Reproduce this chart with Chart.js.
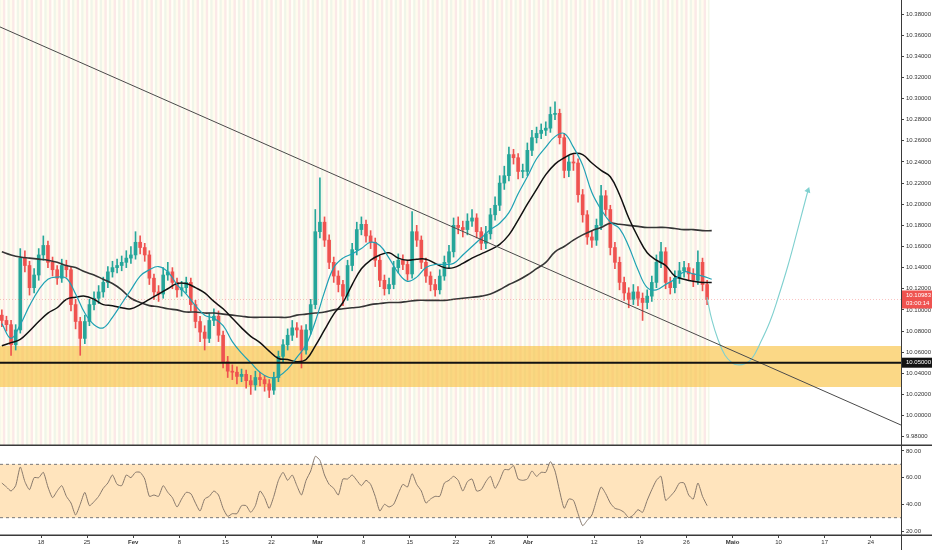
<!DOCTYPE html>
<html>
<head>
<meta charset="utf-8">
<script src="https://cdn.jsdelivr.net/npm/chart.js@4.4.1/dist/chart.umd.min.js"></script>
<style>
  html, body { margin: 0; padding: 0; background: #fff; }
  #wrap { position: relative; width: 932px; height: 550px; overflow: hidden; }
  #price { position: absolute; left: 0; top: 0; }
  #rsi { position: absolute; left: 0; top: 446px; }
</style>
</head>
<body>
<div id="wrap">
  <canvas id="price" width="932" height="446"></canvas>
  <canvas id="rsi" width="932" height="104"></canvas>
</div>
<script>
// x unit = trading days counted from Mon 18 Jan (0)

// candles, two per trading day
const opens = [10.095,10.090,10.086,10.067,10.081,10.149,10.142,10.121,10.133,10.152,
  10.161,10.145,10.138,10.130,10.142,10.138,10.105,10.089,10.073,10.089,
  10.105,10.111,10.117,10.126,10.136,10.140,10.142,10.145,10.149,10.152,
  10.164,10.159,10.152,10.130,10.117,10.115,10.133,10.136,10.126,10.119,
  10.121,10.126,10.105,10.089,10.079,10.073,10.090,10.094,10.076,10.051,
  10.042,10.041,10.037,10.039,10.033,10.029,10.036,10.034,10.030,10.024,
  10.036,10.056,10.067,10.076,10.083,10.081,10.062,10.081,10.105,10.174,
  10.183,10.166,10.145,10.132,10.124,10.113,10.142,10.157,10.176,10.181,
  10.170,10.164,10.147,10.128,10.120,10.124,10.140,10.147,10.143,10.134,
  10.174,10.166,10.145,10.132,10.124,10.119,10.132,10.145,10.155,10.180,
  10.178,10.176,10.184,10.187,10.174,10.163,10.172,10.190,10.199,10.220,
  10.227,10.247,10.244,10.231,10.231,10.251,10.263,10.267,10.270,10.272,
  10.285,10.286,10.263,10.232,10.240,10.239,10.209,10.190,10.169,10.166,
  10.180,10.208,10.195,10.159,10.145,10.126,10.116,10.110,10.117,10.111,
  10.107,10.113,10.126,10.145,10.155,10.126,10.121,10.130,10.137,10.140,
  10.134,10.128,10.145,10.124];
const highs = [10.100,10.094,10.090,10.086,10.158,10.156,10.146,10.139,10.158,10.170,
  10.165,10.150,10.142,10.148,10.147,10.141,10.110,10.093,10.095,10.110,
  10.117,10.123,10.131,10.141,10.146,10.148,10.151,10.156,10.160,10.174,
  10.170,10.163,10.156,10.134,10.123,10.140,10.145,10.140,10.130,10.127,
  10.131,10.130,10.109,10.094,10.085,10.097,10.101,10.099,10.080,10.056,
  10.048,10.046,10.044,10.043,10.038,10.042,10.041,10.038,10.034,10.041,
  10.061,10.072,10.082,10.090,10.088,10.085,10.086,10.110,10.195,10.225,
  10.188,10.171,10.150,10.137,10.128,10.147,10.163,10.183,10.188,10.185,
  10.175,10.168,10.151,10.133,10.130,10.146,10.153,10.152,10.147,10.193,
  10.180,10.170,10.149,10.136,10.129,10.138,10.151,10.161,10.187,10.188,
  10.184,10.191,10.195,10.191,10.178,10.179,10.196,10.207,10.227,10.236,
  10.254,10.252,10.248,10.238,10.258,10.270,10.273,10.276,10.278,10.292,
  10.297,10.290,10.267,10.246,10.247,10.243,10.214,10.194,10.175,10.186,
  10.218,10.213,10.199,10.164,10.150,10.131,10.121,10.124,10.122,10.116,
  10.119,10.132,10.152,10.164,10.159,10.131,10.137,10.145,10.146,10.144,
  10.139,10.156,10.149,10.128];
const lows = [10.084,10.080,10.057,10.062,10.078,10.136,10.114,10.116,10.128,10.147,
  10.140,10.132,10.124,10.126,10.131,10.099,10.082,10.057,10.068,10.085,
  10.100,10.106,10.112,10.121,10.131,10.135,10.137,10.140,10.144,10.148,
  10.153,10.146,10.124,10.110,10.108,10.111,10.128,10.120,10.112,10.113,
  10.116,10.099,10.083,10.070,10.062,10.069,10.085,10.070,10.045,10.036,
  10.034,10.030,10.032,10.026,10.020,10.024,10.028,10.023,10.017,10.020,
  10.032,10.051,10.062,10.071,10.074,10.045,10.058,10.077,10.101,10.168,
  10.160,10.139,10.126,10.117,10.104,10.109,10.137,10.152,10.171,10.164,
  10.158,10.141,10.122,10.114,10.115,10.120,10.135,10.138,10.128,10.130,
  10.160,10.139,10.126,10.118,10.113,10.115,10.128,10.140,10.150,10.172,
  10.169,10.171,10.179,10.168,10.157,10.158,10.167,10.185,10.194,10.214,
  10.222,10.238,10.224,10.225,10.227,10.246,10.258,10.262,10.265,10.268,
  10.280,10.257,10.225,10.226,10.232,10.202,10.183,10.162,10.159,10.161,
  10.176,10.189,10.152,10.139,10.119,10.109,10.102,10.105,10.104,10.090,
  10.101,10.108,10.121,10.140,10.120,10.115,10.116,10.125,10.131,10.128,
  10.122,10.124,10.118,10.105];
const closes = [10.090,10.086,10.067,10.081,10.149,10.142,10.121,10.133,10.152,10.161,
  10.145,10.138,10.130,10.142,10.138,10.105,10.089,10.073,10.089,10.105,
  10.111,10.117,10.126,10.136,10.140,10.142,10.145,10.149,10.152,10.164,
  10.159,10.152,10.130,10.117,10.115,10.133,10.136,10.126,10.119,10.121,
  10.126,10.105,10.089,10.079,10.073,10.090,10.094,10.076,10.051,10.042,
  10.041,10.037,10.039,10.033,10.029,10.036,10.034,10.030,10.024,10.036,
  10.056,10.067,10.076,10.083,10.081,10.062,10.081,10.105,10.174,10.183,
  10.166,10.145,10.132,10.124,10.113,10.142,10.157,10.176,10.181,10.170,
  10.164,10.147,10.128,10.120,10.124,10.140,10.147,10.143,10.134,10.174,
  10.166,10.145,10.132,10.124,10.119,10.132,10.145,10.155,10.180,10.178,
  10.176,10.184,10.187,10.174,10.163,10.172,10.190,10.199,10.220,10.227,
  10.247,10.244,10.231,10.231,10.251,10.263,10.267,10.270,10.272,10.285,
  10.286,10.263,10.232,10.240,10.239,10.209,10.190,10.169,10.166,10.180,
  10.208,10.195,10.159,10.145,10.126,10.116,10.110,10.117,10.111,10.107,
  10.113,10.126,10.145,10.155,10.126,10.121,10.130,10.137,10.140,10.134,
  10.128,10.145,10.124,10.110];

// RSI per candle
const rsiVals = [56,53,50,54,68,57,51,60,60,64,
  53,45,50,54,46,41,32,40,49,39,
  42,46,52,56,62,55,54,62,60,64,
  64,59,46,47,46,54,49,45,38,44,
  49,48,41,35,44,46,50,47,37,31,
  33,33,39,39,34,39,50,45,37,46,
  58,64,58,62,54,47,58,65,76,73,
  62,55,52,47,59,59,62,58,54,58,
  55,46,35,40,38,40,48,55,53,63,
  55,50,41,44,46,46,56,58,61,58,
  50,57,59,50,51,57,61,52,58,66,
  66,69,59,58,59,65,61,64,64,72,
  65,50,37,44,43,33,24,28,32,43,
  53,48,41,37,36,34,30,32,36,34,
  43,51,58,61,43,46,50,56,56,47,
  44,56,46,39];

// moving averages, one value per trading day
const fastMa = [10.087,10.073,10.086,10.104,10.119,10.129,10.131,10.130,10.115,10.097,
  10.086,10.083,10.093,10.106,10.119,10.132,10.138,10.141,10.136,10.124,
  10.115,10.104,10.095,10.092,10.085,10.070,10.059,10.050,10.041,10.036,
  10.037,10.044,10.055,10.067,10.089,10.117,10.140,10.149,10.153,10.158,
  10.164,10.161,10.149,10.135,10.127,10.131,10.140,10.143,10.143,10.144,
  10.152,10.160,10.168,10.176,10.182,10.192,10.210,10.226,10.243,10.254,
  10.264,10.267,10.254,10.237,10.211,10.195,10.183,10.177,10.160,10.138,
  10.121,10.119,10.124,10.129,10.136,10.134,10.132,10.129];
const midMa = [10.066,10.069,10.072,10.080,10.089,10.097,10.102,10.110,10.112,10.113,
  10.110,10.105,10.104,10.102,10.101,10.105,10.110,10.115,10.120,10.125,
  10.125,10.121,10.116,10.108,10.101,10.092,10.083,10.075,10.069,10.061,
  10.054,10.053,10.051,10.053,10.066,10.081,10.096,10.107,10.124,10.139,
  10.147,10.152,10.154,10.149,10.147,10.148,10.148,10.144,10.140,10.140,
  10.144,10.149,10.153,10.157,10.162,10.171,10.185,10.200,10.214,10.228,
  10.238,10.244,10.248,10.247,10.239,10.232,10.226,10.209,10.187,10.169,
  10.154,10.147,10.142,10.132,10.129,10.127,10.126,10.126];
const slowMa = [10.155,10.152,10.150,10.149,10.148,10.147,10.145,10.142,10.140,10.136,
  10.133,10.129,10.125,10.119,10.111,10.107,10.104,10.103,10.101,10.100,
  10.098,10.098,10.097,10.097,10.096,10.095,10.094,10.093,10.093,10.093,
  10.093,10.093,10.095,10.096,10.097,10.098,10.100,10.101,10.102,10.103,
  10.105,10.106,10.107,10.107,10.108,10.109,10.109,10.109,10.109,10.110,
  10.111,10.112,10.113,10.115,10.119,10.124,10.128,10.133,10.139,10.145,
  10.155,10.160,10.166,10.171,10.175,10.178,10.182,10.181,10.180,10.179,
  10.178,10.178,10.178,10.177,10.176,10.176,10.175,10.175];

// drawings
const trendDays = [-4.45, 93.28];
const trendPrices = [10.3678, 9.991];
const projDays = [72.23,72.78,73.43,74.19,74.95,75.49,76.36,77.11,77.98,79.07,79.93,81.02,82.10,83.19];
const projPrices = [10.112,10.090,10.072,10.057,10.050,10.048,10.049,10.054,10.068,10.089,10.111,10.142,10.177,10.213];
const zoneTop = 10.0658;
const zoneBottom = 10.027;
const levelPrice = 10.05;
const lastPrice = 10.10983;
const countdown = '03:00:14';
const rsiUpper = 70, rsiLower = 30;

// axis ticks
const timeTickDays = [0,5,10,15,20,25,30,35,40,45,48.9,52.8,60,65,70,75,80,85,90];
const timeTickLabels = ['18','25','Fev','8','15','22','Mar','8','15','22','26','Abr','12','19','26','Maio','10','17','24'];
const monthLabels = ['Fev','Mar','Abr','Maio'];
const priceTicks = [9.98,10.00,10.02,10.04,10.06,10.08,10.10,10.12,10.14,10.16,10.18,10.20,10.22,10.24,10.26,10.28,10.30,10.32,10.34,10.36,10.38];
const rsiTicks = [20,40,60,80];

const X_MIN = -4.45, X_MAX = 93.28;
const UP = '#26a69a', DOWN = '#ef5350';
const FONT = 'Liberation Sans, Arial, sans-serif';

const candleDays = closes.map((_, i) => -4.25 + i * 0.5);
const maDays = fastMa.map((_, i) => -4.25 + i);
const candleColors = closes.map((c, i) => c >= opens[i] ? UP : DOWN);

const pts = (xs, ys) => xs.map((x, i) => ({x: x, y: ys[i]}));
const flat = v => [{x: X_MIN, y: v}, {x: X_MAX, y: v}];

Chart.defaults.font.family = FONT;
Chart.defaults.animation = false;

const sessionStripes = {
  id: 'sessionStripes',
  beforeDatasetsDraw(chart) {
    const {ctx, chartArea, scales: {x}} = chart;
    const first = candleDays[0] - 0.25, last = candleDays[candleDays.length - 1] + 0.25;
    const x0 = x.getPixelForValue(first), x1 = x.getPixelForValue(last);
    const top = chartArea.top, h = chartArea.bottom - chartArea.top;
    ctx.save();
    ctx.beginPath();
    ctx.rect(Math.max(x0, 0), top, x1 - Math.max(x0, 0), h);
    ctx.clip();
    ctx.fillStyle = '#fffcee';
    ctx.fillRect(x0, top, x1 - x0, h);
    for (let d = Math.floor(first); d <= last; d++) {
      const px = x.getPixelForValue(d);
      ctx.fillStyle = '#fbe9e8';
      ctx.fillRect(px - 1.2, top, 2.4, h);
      ctx.fillStyle = '#f0f5e9';
      ctx.fillRect(px + 3.4, top, 2.2, h);
      ctx.fillStyle = '#fffff8';
      ctx.fillRect(px + 1.4, top, 1.6, h);
    }
    ctx.restore();
  }
};

const priceFrame = {
  id: 'priceFrame',
  afterDraw(chart) {
    const {ctx, chartArea, scales: {y}} = chart;
    const W = chart.width, R = chartArea.right;
    ctx.save();
    ctx.strokeStyle = '#3a3a3a';
    ctx.lineWidth = 1;
    ctx.beginPath();
    ctx.moveTo(R + 0.5, 0); ctx.lineTo(R + 0.5, chart.height);
    ctx.stroke();
    ctx.lineWidth = 1.5;
    ctx.beginPath();
    ctx.moveTo(0, chart.height - 0.75); ctx.lineTo(W, chart.height - 0.75);
    ctx.stroke();
    ctx.font = '6px ' + FONT;
    ctx.textBaseline = 'middle';
    const py = y.getPixelForValue(lastPrice);
    ctx.fillStyle = DOWN;
    ctx.fillRect(R + 1, py - 9, W - R - 1, 18);
    ctx.fillStyle = '#fff';
    ctx.fillText(lastPrice.toFixed(5), R + 5, py - 4);
    ctx.fillText(countdown, R + 5, py + 4);
    const ly = y.getPixelForValue(levelPrice);
    ctx.fillStyle = '#131313';
    ctx.fillRect(R + 1, ly - 5, W - R - 1, 10);
    ctx.fillStyle = '#fff';
    ctx.fillText(levelPrice.toFixed(5), R + 5, ly);
    ctx.restore();
  }
};

const rsiFrame = {
  id: 'rsiFrame',
  afterDraw(chart) {
    const {ctx, chartArea} = chart;
    ctx.save();
    ctx.strokeStyle = '#3a3a3a';
    ctx.lineWidth = 1;
    ctx.beginPath();
    ctx.moveTo(chartArea.right + 0.5, 0); ctx.lineTo(chartArea.right + 0.5, chart.height);
    ctx.stroke();
    ctx.lineWidth = 1.5;
    ctx.beginPath();
    ctx.moveTo(0, chartArea.bottom + 0.25); ctx.lineTo(chart.width, chartArea.bottom + 0.25);
    ctx.stroke();
    ctx.restore();
  }
};

const rightAxis = (ticks, fmt, min, max) => ({
  position: 'right',
  min: min, max: max,
  afterBuildTicks: s => { s.ticks = ticks.map(v => ({value: v})); },
  afterFit: s => { s.width = 31; s.paddingTop = 0; s.paddingBottom = 0; },
  border: {display: false},
  grid: {drawOnChartArea: false, drawTicks: true, tickLength: 3, color: '#444'},
  ticks: {font: {size: 6}, color: '#333', padding: 2, callback: v => v.toFixed(fmt)}
});

const line = (data, color, width, order, extra) => Object.assign({
  type: 'line', data: data, borderColor: color, borderWidth: width,
  pointRadius: 0, pointHoverRadius: 0, fill: false, order: order
}, extra || {});

new Chart(document.getElementById('price'), {
  type: 'bar',
  data: {
    datasets: [
      line(flat(zoneTop), 'rgba(0,0,0,0)', 0, 20),
      line(flat(zoneBottom), 'rgba(0,0,0,0)', 0, 20, {fill: '-1', backgroundColor: 'rgba(249,192,60,0.62)'}),
      {
        type: 'bar', label: 'wicks', order: 6, grouped: false, barThickness: 1,
        data: candleDays.map((d, i) => ({x: d, y: [lows[i], highs[i]]})),
        backgroundColor: candleColors, borderWidth: 0
      },
      {
        type: 'bar', label: 'bodies', order: 5, grouped: false, barThickness: 3, minBarLength: 1,
        data: candleDays.map((d, i) => ({x: d, y: [opens[i], closes[i]]})),
        backgroundColor: candleColors, borderWidth: 0
      },
      line(pts(maDays, slowMa), '#353535', 1.6, 4, {tension: 0.4}),
      line(pts(maDays, midMa), '#111111', 1.5, 3, {tension: 0.4}),
      line(pts(maDays, fastMa), '#1fa2b4', 1.2, 2, {tension: 0.4}),
      line(flat(lastPrice), 'rgba(239,83,80,0.35)', 1, 2, {borderDash: [1, 2]}),
      line(flat(levelPrice), '#121212', 2, 1),
      line(pts(trendDays, trendPrices), '#4a4a4a', 1, 1),
      line(pts(projDays, projPrices), '#7fd0cf', 1.1, 1, {
        tension: 0.4,
        pointStyle: 'triangle',
        pointRotation: 20,
        pointRadius: c => c.dataIndex === projDays.length - 1 ? 2.5 : 0,
        pointBackgroundColor: '#7fd0cf',
        pointBorderColor: '#7fd0cf'
      })
    ]
  },
  options: {
    responsive: false,
    layout: {padding: 0, autoPadding: false},
    plugins: {legend: {display: false}, tooltip: {enabled: false}},
    scales: {
      x: {type: 'linear', min: X_MIN, max: X_MAX, offset: false, display: false},
      y: rightAxis(priceTicks, 5, 10.3933 - 446 * 0.0009465, 10.3933)
    }
  },
  plugins: [sessionStripes, priceFrame]
});

new Chart(document.getElementById('rsi'), {
  type: 'line',
  data: {
    datasets: [
      line(flat(rsiUpper), '#787878', 1, 3, {borderDash: [3, 3]}),
      line(flat(rsiLower), '#787878', 1, 3, {borderDash: [3, 3], fill: '-1', backgroundColor: 'rgba(255,152,0,0.26)'}),
      line(pts(candleDays, rsiVals), '#86776a', 1, 1, {tension: 0.2})
    ]
  },
  options: {
    responsive: false,
    layout: {padding: {top: 1}, autoPadding: false},
    plugins: {legend: {display: false}, tooltip: {enabled: false}},
    scales: {
      x: {
        type: 'linear', min: X_MIN, max: X_MAX, offset: false,
        afterBuildTicks: s => { s.ticks = timeTickDays.map(v => ({value: v})); },
        afterFit: s => { s.height = 15; s.paddingLeft = 0; s.paddingRight = 0; },
        border: {display: false},
        grid: {drawOnChartArea: false, drawTicks: true, tickLength: 3, color: '#444'},
        ticks: {
          autoSkip: false, maxRotation: 0, padding: 1, color: '#333',
          font: c => ({size: 6, weight: monthLabels.includes(timeTickLabels[c.index]) ? 'bold' : 'normal'}),
          callback: (v, i) => timeTickLabels[i]
        }
      },
      y: rightAxis(rsiTicks, 2, 17, 83)
    }
  },
  plugins: [rsiFrame]
});
</script>
</body>
</html>
